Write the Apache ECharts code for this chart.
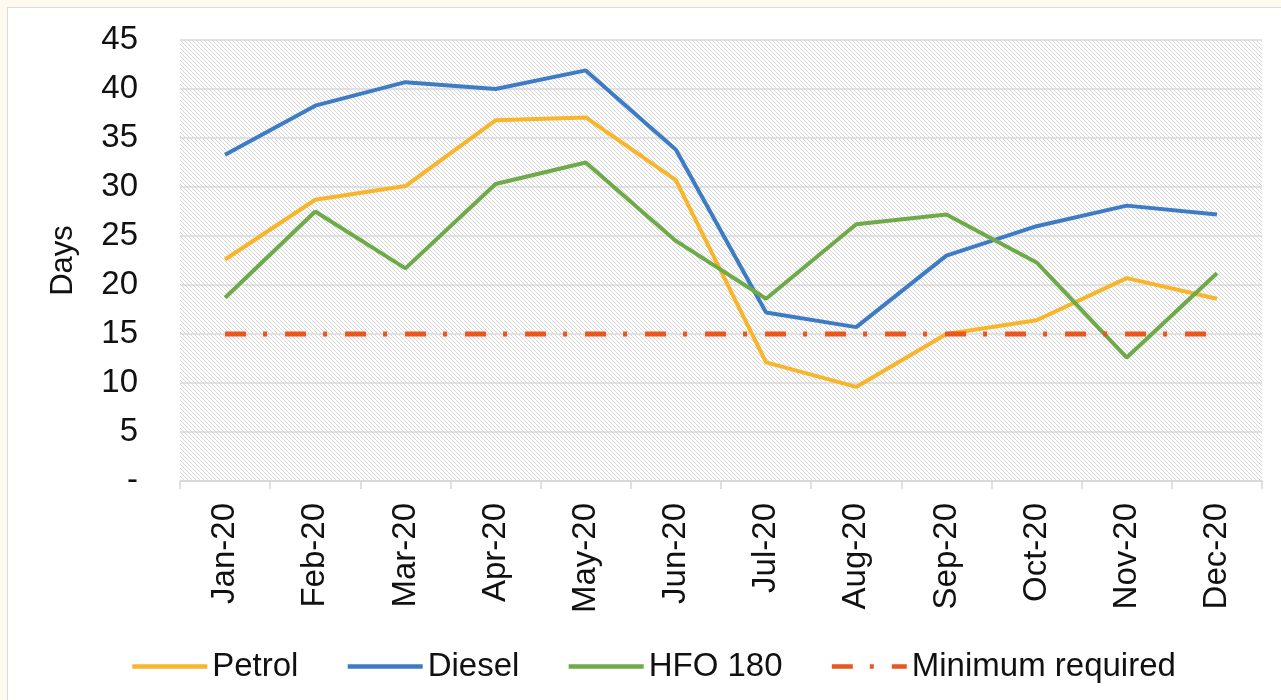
<!DOCTYPE html>
<html>
<head>
<meta charset="utf-8">
<script src="https://cdn.jsdelivr.net/npm/echarts@6/dist/echarts.min.js"></script>
<style>
  html, body { margin: 0; padding: 0; background: #fdf9ec; }
  #frame { position: absolute; left: 7px; top: 7px; width: 1290px; height: 700px; background: #fff; border: 1px solid #dcdcdc; }
  #chart { position: absolute; left: 0; top: 0; width: 1281px; height: 700px; }
</style>
</head>
<body>
<div id="frame"></div>
<div id="chart"></div>
<script>
  var months = ['Jan-20', 'Feb-20', 'Mar-20', 'Apr-20', 'May-20', 'Jun-20', 'Jul-20', 'Aug-20', 'Sep-20', 'Oct-20', 'Nov-20', 'Dec-20']
  var petrol = [22.6, 28.7, 30.1, 36.8, 37.1, 30.7, 12.1, 9.6, 15.0, 16.4, 20.7, 18.6]
  var diesel = [33.3, 38.3, 40.7, 40.0, 41.9, 33.8, 17.2, 15.7, 23.0, 26.0, 28.1, 27.2]
  var hfo180 = [18.7, 27.5, 21.7, 30.3, 32.5, 24.5, 18.6, 26.2, 27.2, 22.3, 12.6, 21.2]
  var minimumRequired = [15, 15, 15, 15, 15, 15, 15, 15, 15, 15, 15, 15]

  var font = 'Liberation Sans, Arial, sans-serif'

  // diagonal hatch for the plot background
  var tile = document.createElement('canvas')
  tile.width = 8
  tile.height = 8
  var ctx = tile.getContext('2d')
  ctx.fillStyle = '#ffffff'
  ctx.fillRect(0, 0, 8, 8)
  ctx.strokeStyle = '#d6d6d6'
  ctx.lineWidth = 1
  for (var k = -8; k <= 8; k += 4) {
    ctx.beginPath()
    ctx.moveTo(k, 0)
    ctx.lineTo(k + 8, 8)
    ctx.stroke()
  }

  function lineSeries (name, data, color) {
    return {
      name: name,
      type: 'line',
      data: data,
      symbol: 'none',
      lineStyle: { color: color, width: 4 },
      itemStyle: { color: color }
    }
  }

  var chart = echarts.init(document.getElementById('chart'))
  chart.setOption({
    animation: false,
    textStyle: { fontFamily: font },
    grid: {
      left: 180,
      top: 40,
      right: 19,
      bottom: 219,
      show: true,
      borderWidth: 0,
      backgroundColor: { image: tile, repeat: 'repeat' }
    },
    legend: {
      left: 125,
      top: 645,
      itemWidth: 75,
      itemHeight: 18,
      itemGap: 47,
      itemStyle: { opacity: 0 },
      lineStyle: { width: 4.5 },
      textStyle: { fontSize: 33, color: '#111', fontFamily: font },
      data: ['Petrol', 'Diesel', 'HFO 180', 'Minimum required']
    },
    xAxis: {
      type: 'category',
      data: months,
      boundaryGap: true,
      axisLine: { lineStyle: { color: '#d6d6d6', width: 1.5 } },
      axisTick: { show: true, length: 8, lineStyle: { color: '#d6d6d6', width: 1.5 } },
      axisLabel: { rotate: 90, margin: 22, fontSize: 33, color: '#111', fontFamily: font }
    },
    yAxis: {
      type: 'value',
      min: 0,
      max: 45,
      interval: 5,
      name: 'Days',
      nameLocation: 'middle',
      nameGap: 101,
      nameTextStyle: { fontSize: 31, color: '#111', fontFamily: font },
      axisLine: { show: false },
      axisTick: { show: false },
      axisLabel: {
        margin: 42,
        fontSize: 33,
        color: '#111',
        fontFamily: font,
        formatter: function (v) { return v === 0 ? '-' : v }
      },
      splitLine: { lineStyle: { color: '#d9d9d9', width: 1.5 } }
    },
    series: [
      lineSeries('Petrol', petrol, '#F7B52C'),
      lineSeries('Diesel', diesel, '#3D7CC4'),
      lineSeries('HFO 180', hfo180, '#6EAA48'),
      {
        name: 'Minimum required',
        type: 'line',
        data: minimumRequired,
        symbol: 'none',
        lineStyle: { color: '#E9571F', width: 5, type: [21, 17, 4, 18] },
        itemStyle: { color: '#E9571F' }
      }
    ]
  })
</script>
</body>
</html>
